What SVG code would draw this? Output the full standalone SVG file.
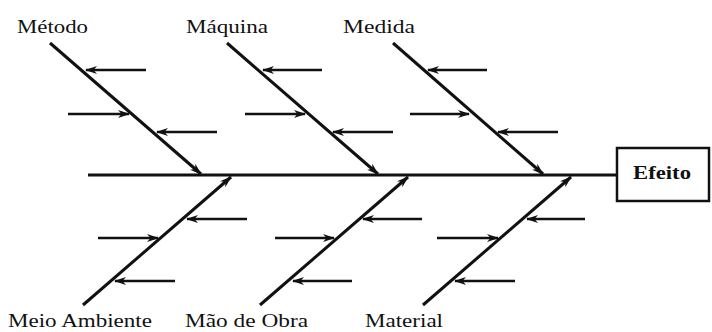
<svg xmlns="http://www.w3.org/2000/svg" width="712" height="332" viewBox="0 0 712 332">
<style>
.lbl{font-family:"Liberation Serif","Times New Roman",serif;font-size:19px;fill:#111}
.eff{font-family:"Liberation Serif","Times New Roman",serif;font-size:19px;font-weight:bold;fill:#111}
.bone{stroke:#111;stroke-width:3;fill:none;marker-end:url(#ah)}
.rib{stroke:#111;stroke-width:2.5;fill:none;marker-end:url(#ah)}
.spine{stroke:#111;stroke-width:3;fill:none}
.box{stroke:#111;stroke-width:2.5;fill:#fff}
</style>
<defs>
<marker id="ah" viewBox="0 0 12 8" refX="11" refY="4" markerWidth="12" markerHeight="8" markerUnits="userSpaceOnUse" orient="auto">
<path d="M0,0 L12,4 L0,8 L3.5,4 z" fill="#111"/>
</marker>
</defs>
<g id="connectors">
<line class="spine" x1="88" y1="175" x2="617" y2="175"/>
<line class="bone" x1="50" y1="43" x2="201" y2="174"/>
<line class="rib" x1="146" y1="70" x2="86" y2="70"/>
<line class="rib" x1="68" y1="114" x2="129" y2="114"/>
<line class="rib" x1="217" y1="132" x2="157" y2="132"/>
<line class="bone" x1="227" y1="43" x2="378" y2="174"/>
<line class="rib" x1="322" y1="70" x2="263" y2="70"/>
<line class="rib" x1="245" y1="114" x2="305" y2="114"/>
<line class="rib" x1="393" y1="132" x2="333" y2="132"/>
<line class="bone" x1="393" y1="43" x2="543" y2="174"/>
<line class="rib" x1="487" y1="70" x2="428" y2="70"/>
<line class="rib" x1="410" y1="114" x2="469" y2="114"/>
<line class="rib" x1="558" y1="132" x2="498" y2="132"/>
<line class="bone" x1="83" y1="305" x2="231" y2="177"/>
<line class="rib" x1="247" y1="219" x2="187" y2="219"/>
<line class="rib" x1="98" y1="238" x2="158" y2="238"/>
<line class="rib" x1="175" y1="281" x2="115" y2="281"/>
<line class="bone" x1="260" y1="305" x2="408" y2="177"/>
<line class="rib" x1="422" y1="219" x2="363" y2="219"/>
<line class="rib" x1="275" y1="238" x2="334" y2="238"/>
<line class="rib" x1="352" y1="281" x2="293" y2="281"/>
<line class="bone" x1="423" y1="305" x2="571" y2="177"/>
<line class="rib" x1="585" y1="219" x2="527" y2="219"/>
<line class="rib" x1="437" y1="238" x2="498" y2="238"/>
<line class="rib" x1="515" y1="281" x2="455" y2="281"/>
</g>
<g id="efeito">
<rect class="box" x="617" y="148" width="92" height="53"/>
<text class="eff" x="633" y="179" textLength="58" lengthAdjust="spacingAndGlyphs">Efeito</text>
</g>
<g id="metodo"><text class="lbl" x="17" y="33" textLength="71" lengthAdjust="spacingAndGlyphs">Método</text></g>
<g id="maquina"><text class="lbl" x="186" y="33" textLength="82" lengthAdjust="spacingAndGlyphs">Máquina</text></g>
<g id="medida"><text class="lbl" x="343" y="33" textLength="72" lengthAdjust="spacingAndGlyphs">Medida</text></g>
<g id="meio-ambiente"><text class="lbl" x="8" y="327" textLength="144" lengthAdjust="spacingAndGlyphs">Meio Ambiente</text></g>
<g id="mao-de-obra"><text class="lbl" x="185" y="327" textLength="123" lengthAdjust="spacingAndGlyphs">Mão de Obra</text></g>
<g id="material"><text class="lbl" x="365" y="327" textLength="78" lengthAdjust="spacingAndGlyphs">Material</text></g>
</svg>
